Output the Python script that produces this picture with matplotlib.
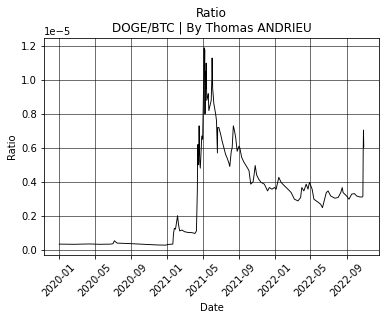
import numpy as np
import pandas as pd
import matplotlib
matplotlib.use("Agg")
import matplotlib.pyplot as plt

# DOGE/BTC ratio, values (units of 1e-5)
dates = [
    "2020-01-01", "2020-02-21", "2020-04-12", "2020-05-17", "2020-06-22",
    "2020-07-01", "2020-07-06", "2020-07-10", "2020-07-15", "2020-08-28",
    "2020-10-14", "2020-11-29", "2020-12-27", "2021-01-03", "2021-01-20",
    "2021-01-22", "2021-01-25", "2021-01-29", "2021-02-05", "2021-02-08",
    "2021-02-12", "2021-02-20", "2021-03-01", "2021-03-15", "2021-03-25",
    "2021-04-05", "2021-04-10", "2021-04-13", "2021-04-14", "2021-04-15",
    "2021-04-16", "2021-04-18", "2021-04-19", "2021-04-21", "2021-04-23",
    "2021-04-25", "2021-04-28", "2021-05-01", "2021-05-04", "2021-05-06",
    "2021-05-07", "2021-05-08", "2021-05-09", "2021-05-10", "2021-05-12",
    "2021-05-13", "2021-05-15", "2021-05-18", "2021-05-20", "2021-05-22",
    "2021-05-30", "2021-06-01", "2021-06-02", "2021-06-04", "2021-06-08",
    "2021-06-14", "2021-06-17", "2021-06-20", "2021-06-21", "2021-06-25",
    "2021-07-01", "2021-07-06", "2021-07-12", "2021-07-18", "2021-07-23",
    "2021-07-29", "2021-08-01", "2021-08-06", "2021-08-09", "2021-08-13",
    "2021-08-17", "2021-08-21", "2021-08-26", "2021-09-01", "2021-09-04",
    "2021-09-10", "2021-09-18", "2021-09-27", "2021-10-05", "2021-10-11",
    "2021-10-19", "2021-10-23", "2021-10-26", "2021-10-31", "2021-11-07",
    "2021-11-15", "2021-11-26", "2021-12-07", "2021-12-13", "2021-12-22",
    "2021-12-30", "2022-01-05", "2022-01-14", "2022-01-22", "2022-02-02",
    "2022-02-14", "2022-02-25", "2022-03-08", "2022-03-20", "2022-03-29",
    "2022-04-02", "2022-04-09", "2022-04-17", "2022-04-23", "2022-04-28",
    "2022-05-07", "2022-05-13", "2022-05-21", "2022-05-29", "2022-06-05",
    "2022-06-11", "2022-06-17", "2022-06-24", "2022-06-30", "2022-07-09",
    "2022-07-23", "2022-08-03", "2022-08-12", "2022-08-17", "2022-08-20",
    "2022-09-01", "2022-09-09", "2022-09-18", "2022-09-27", "2022-10-05",
    "2022-10-16", "2022-10-24", "2022-10-26", "2022-10-27", "2022-10-28",
    "2022-10-29",
]
ratio = [
    0.032, 0.031, 0.033, 0.031, 0.032,
    0.034, 0.052, 0.045, 0.038, 0.035,
    0.031, 0.027, 0.026, 0.030, 0.032,
    0.090, 0.125, 0.120, 0.200, 0.150,
    0.110, 0.115, 0.105, 0.100, 0.100,
    0.095, 0.110, 0.350, 0.550, 0.620,
    0.500, 0.580, 0.730, 0.520, 0.480,
    0.550, 0.670, 0.650, 0.950, 1.190,
    1.050, 1.180, 0.800, 1.050, 0.950,
    1.100, 0.880, 0.900, 0.920, 0.820,
    0.880, 1.000, 1.130, 0.950, 0.860,
    0.800, 0.760, 0.570, 0.720, 0.720,
    0.680, 0.640, 0.600, 0.560, 0.540,
    0.510, 0.490, 0.580, 0.600, 0.730,
    0.700, 0.660, 0.580, 0.610, 0.600,
    0.545, 0.515, 0.490, 0.466, 0.386,
    0.400, 0.450, 0.496, 0.440, 0.415,
    0.396, 0.386, 0.346, 0.366, 0.356,
    0.366, 0.356, 0.426, 0.396, 0.376,
    0.356, 0.336, 0.297, 0.287, 0.307,
    0.366, 0.346, 0.386, 0.356, 0.397,
    0.356, 0.297, 0.287, 0.277, 0.267,
    0.247, 0.287, 0.336, 0.346, 0.316,
    0.303, 0.307, 0.336, 0.366, 0.336,
    0.316, 0.297, 0.327, 0.330, 0.316,
    0.310, 0.310, 0.315, 0.575, 0.705,
    0.605,
]

df = pd.DataFrame({"Date": pd.to_datetime(dates), "Ratio": np.array(ratio) * 1e-5})

fig = plt.figure(figsize=(386 / 72, 322 / 72), dpi=72)
ax = fig.add_axes([44 / 386, 1 - 255 / 322, 335 / 386, 217 / 322])
ax.plot(df["Date"], df["Ratio"], color="black", linewidth=0.9)
ax.grid(True, color="black", linewidth=0.8, alpha=0.7)
ax.set_xlabel("Date")
ax.set_ylabel("Ratio")
ax.set_title("Ratio\nDOGE/BTC | By Thomas ANDRIEU")
plt.setp(ax.get_xticklabels(), rotation=45)

fig.savefig("out.png", dpi=72)
